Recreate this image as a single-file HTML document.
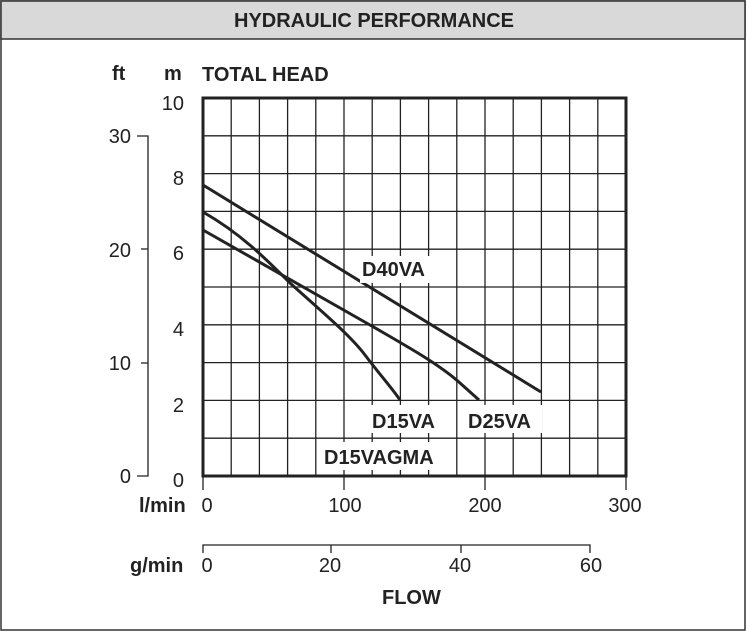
<!DOCTYPE html>
<html><head><style>
body{margin:0;background:#fff;}
svg{display:block;font-family:"Liberation Sans",Arial,sans-serif;}
</style></head><body>
<svg width="747" height="635" viewBox="0 0 747 635">
<rect x="1" y="1" width="744" height="629" fill="#fff" stroke="#333" stroke-width="1.5"/>
<rect x="1" y="1" width="744" height="38" fill="#d9d9d9" stroke="#333" stroke-width="1.5"/>
<text x="374" y="27" font-size="20" font-weight="bold" text-anchor="middle" fill="#222">HYDRAULIC PERFORMANCE</text>
<g stroke="#222" stroke-width="1.3">
<line x1="231.2" y1="98" x2="231.2" y2="476"/><line x1="259.4" y1="98" x2="259.4" y2="476"/><line x1="287.6" y1="98" x2="287.6" y2="476"/><line x1="315.8" y1="98" x2="315.8" y2="476"/><line x1="344" y1="98" x2="344" y2="476"/><line x1="372.2" y1="98" x2="372.2" y2="476"/><line x1="400.4" y1="98" x2="400.4" y2="476"/><line x1="428.6" y1="98" x2="428.6" y2="476"/><line x1="456.8" y1="98" x2="456.8" y2="476"/><line x1="485" y1="98" x2="485" y2="476"/><line x1="513.2" y1="98" x2="513.2" y2="476"/><line x1="541.4" y1="98" x2="541.4" y2="476"/><line x1="569.6" y1="98" x2="569.6" y2="476"/><line x1="597.8" y1="98" x2="597.8" y2="476"/>
<line x1="203" y1="135.8" x2="626" y2="135.8"/><line x1="203" y1="173.6" x2="626" y2="173.6"/><line x1="203" y1="211.4" x2="626" y2="211.4"/><line x1="203" y1="249.2" x2="626" y2="249.2"/><line x1="203" y1="287" x2="626" y2="287"/><line x1="203" y1="324.8" x2="626" y2="324.8"/><line x1="203" y1="362.6" x2="626" y2="362.6"/><line x1="203" y1="400.4" x2="626" y2="400.4"/><line x1="203" y1="438.2" x2="626" y2="438.2"/>
</g>
<rect x="203" y="98" width="423" height="378" fill="none" stroke="#222" stroke-width="3"/>
<g fill="none" stroke="#222" stroke-width="3">
<polyline points="203,185 541,392"/>
<path d="M203,212 C240,233 265,258 290,283 C320,310 350,335 365,355 C380,375 392,388 400,400"/>
<path d="M203,230 L370,325 C410,348 440,365 460,383 L479,400"/>
</g>
<g fill="#fff">
<rect x="360" y="256" width="72" height="27"/>
<rect x="370" y="405" width="62" height="28"/>
<rect x="466" y="405" width="76" height="28"/>
<rect x="322" y="442" width="120" height="28"/>
</g>
<g font-size="20" font-weight="bold" fill="#222">
<text x="362" y="276">D40VA</text>
<text x="372" y="428">D15VA</text>
<text x="468" y="428">D25VA</text>
<text x="324" y="464">D15VAGMA</text>
<text x="202" y="81">TOTAL HEAD</text>
<text x="112" y="80">ft</text>
<text x="164" y="80">m</text>
<text x="139" y="512">l/min</text>
<text x="130" y="572">g/min</text>
<text x="382" y="604">FLOW</text>
</g>
<g font-size="20" fill="#222">
<g text-anchor="end">
<text x="184" y="110">10</text><text x="184" y="185">8</text><text x="184" y="260">6</text><text x="184" y="336">4</text><text x="184" y="412">2</text><text x="184" y="487">0</text>
<text x="131" y="143">30</text><text x="131" y="257">20</text><text x="131" y="370">10</text><text x="131" y="483">0</text>
</g>
<g text-anchor="middle">
<text x="207" y="512">0</text><text x="345" y="512">100</text><text x="485" y="512">200</text><text x="625" y="512">300</text>
<text x="207" y="572">0</text><text x="330" y="572">20</text><text x="460" y="572">40</text><text x="591" y="572">60</text>
</g>
</g>
<g stroke="#222" stroke-width="1.3" fill="none">
<polyline points="137,136 148,136 148,476 137,476"/>
<line x1="148" y1="249" x2="141" y2="249"/><line x1="148" y1="363" x2="141" y2="363"/>
<line x1="203" y1="476" x2="203" y2="490"/><line x1="344" y1="476" x2="344" y2="490"/><line x1="485" y1="476" x2="485" y2="490"/><line x1="626" y1="476" x2="626" y2="490"/>
<polyline points="203,553 203,545 590,545 590,553"/>
<line x1="331" y1="545" x2="331" y2="553"/><line x1="461" y1="545" x2="461" y2="553"/>
</g>
</svg>
</body></html>
